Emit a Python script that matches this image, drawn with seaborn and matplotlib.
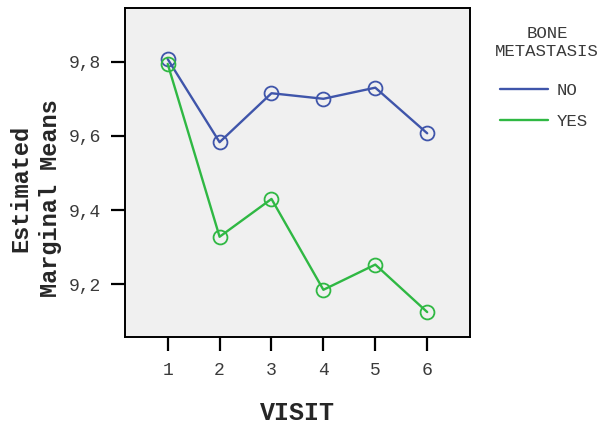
import matplotlib
matplotlib.use("Agg")
import matplotlib.pyplot as plt
import seaborn as sns
import pandas as pd
from matplotlib.lines import Line2D

# Estimated marginal means by visit and bone metastasis status
visits = [1, 2, 3, 4, 5, 6]
means_no = [9.807, 9.583, 9.715, 9.700, 9.730, 9.607]
means_yes = [9.794, 9.328, 9.430, 9.185, 9.253, 9.125]
groups = ["NO", "YES"]
y_ticks = [9.2, 9.4, 9.6, 9.8]
y_tick_labels = ["9,2", "9,4", "9,6", "9,8"]

df = pd.DataFrame({
    "VISIT": visits * 2,
    "mean": means_no + means_yes,
    "BONE METASTASIS": [groups[0]] * len(visits) + [groups[1]] * len(visits),
})

sns.set_style("white")
plt.rcParams["font.family"] = ["Liberation Mono", "DejaVu Sans Mono"]

palette = {"NO": "#3f55aa", "YES": "#2fb843"}
text_grey = "#3a3a3a"

fig = plt.figure(figsize=(6.07, 4.25), dpi=100)
ax = fig.add_axes([0.2059, 0.2064, 0.5684, 0.7741])
ax.set_facecolor("#f0f0f0")

sns.lineplot(data=df, x="VISIT", y="mean", hue="BONE METASTASIS",
             palette=palette, marker="o", markersize=10,
             markerfacecolor="none", markeredgewidth=1.3, linewidth=1.7,
             ax=ax, legend=False)
for ln, g in zip(ax.lines, groups):
    ln.set_markeredgecolor(palette[g])

ax.set_xlim(0.177, 6.825)
ax.set_ylim(9.057, 9.944)
ax.set_xticks(visits)
ax.set_xticklabels([str(v) for v in visits])
ax.set_yticks(y_ticks)
ax.set_yticklabels(y_tick_labels)

for sp in ax.spines.values():
    sp.set_visible(True)
    sp.set_color("black")
    sp.set_linewidth(1.4)

ax.tick_params(axis="both", which="major", bottom=True, left=True,
               direction="out", length=10, width=1.6, color="black",
               labelsize=13, labelcolor=text_grey, pad=7)
ax.tick_params(axis="x", pad=8)

ax.set_xlabel("")
ax.set_ylabel("")

# Axis titles
fig.text(297 / 607, 1 - 420 / 425, "VISIT", fontsize=18, fontweight="bold",
         ha="center", va="baseline")
fig.text(21 / 607, 1 - 188 / 425, "Estimated", fontsize=17,
         fontweight="bold", rotation=90, ha="center", va="center")
fig.text(51 / 607, 1 - 198 / 425, "Marginal Means", fontsize=17,
         fontweight="bold", rotation=90, ha="center", va="center")

# Legend title and entries
fig.text(547 / 607, 1 - 33 / 425, "BONE", fontsize=12.5, color=text_grey,
         ha="center", va="center")
fig.text(547 / 607, 1 - 52 / 425, "METASTASIS", fontsize=12.5,
         color=text_grey, ha="center", va="center")
handles = [Line2D([], [], color=palette[g], linewidth=1.7) for g in groups]
leg = fig.legend(handles, groups, loc="upper left",
                 bbox_to_anchor=(500 / 607, 1 - 83 / 425),
                 frameon=False, fontsize=12.5, borderpad=0,
                 borderaxespad=0, handlelength=2.75, handletextpad=0.5,
                 labelspacing=0.92)
for t in leg.get_texts():
    t.set_color(text_grey)

fig.savefig("out.png", dpi=100, facecolor="white")
